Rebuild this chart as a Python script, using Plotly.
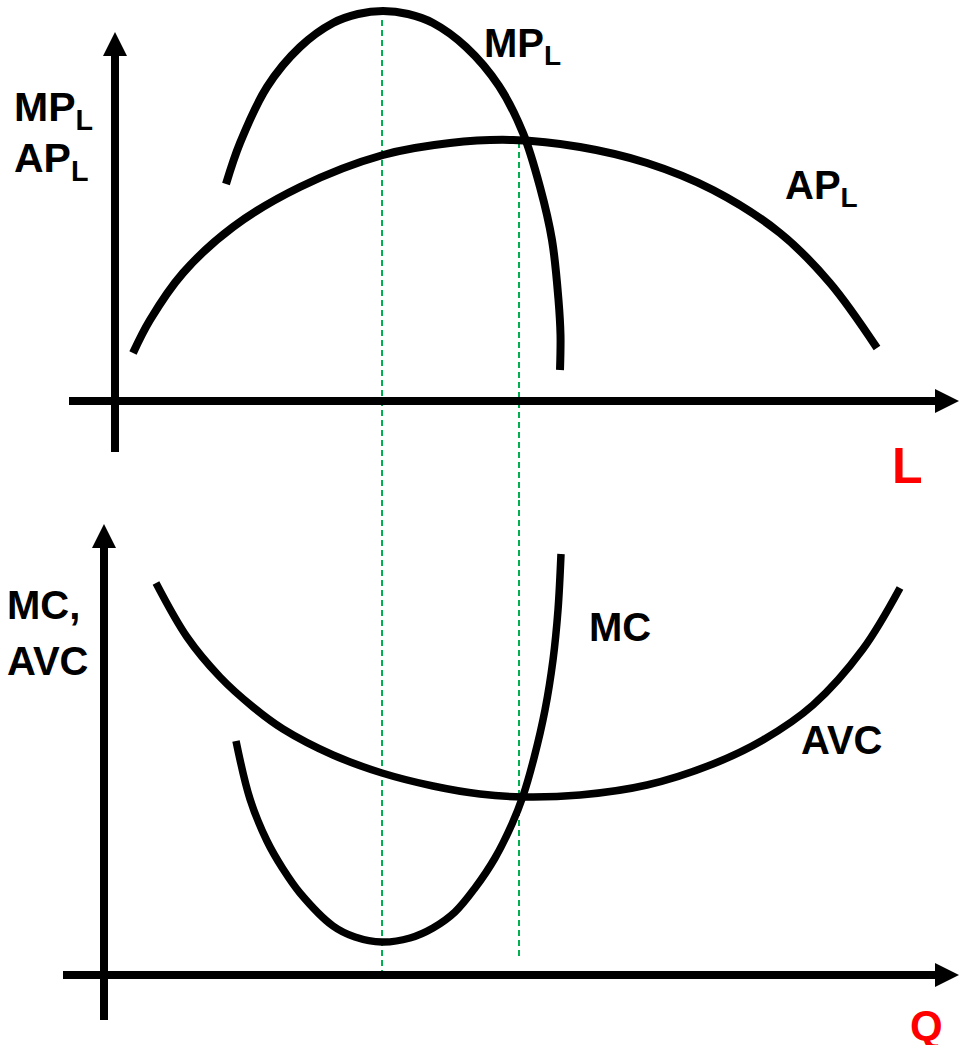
import plotly.graph_objects as go

# ---------------- data (chart units) ----------------
# Top panel: labour L vs product
mp_l_x = [2.18, 2.46, 3.00, 3.66, 4.32, 4.82, 5.32, 5.82, 6.32, 6.98, 7.64, 8.12, 8.46, 8.70, 8.83, 8.87, 8.86]
mp_l_y = [4.34, 5.16, 6.28, 7.08, 7.56, 7.74, 7.80, 7.74, 7.56, 7.08, 6.30, 5.36, 4.28, 3.22, 2.02, 1.32, 0.62]

ap_l_x = [0.32, 0.66, 1.32, 2.32, 3.66, 5.32, 6.66, 7.92, 9.26, 10.60, 11.92, 13.26, 14.26, 15.20]
ap_l_y = [0.96, 1.62, 2.56, 3.48, 4.28, 4.92, 5.16, 5.22, 5.08, 4.76, 4.22, 3.36, 2.36, 1.06]

# Bottom panel: output Q vs cost
avc_x = [1.04, 1.66, 2.32, 2.98, 3.58, 4.58, 5.56, 6.58, 7.52, 8.38, 9.52, 10.86, 12.18, 13.18, 14.18, 15.18, 15.92]
avc_y = [7.84, 6.76, 5.96, 5.36, 4.92, 4.40, 4.04, 3.78, 3.62, 3.56, 3.60, 3.80, 4.22, 4.70, 5.40, 6.52, 7.74]

mc_x = [2.64, 2.92, 3.26, 3.58, 3.92, 4.58, 5.02, 5.56, 6.12, 6.58, 7.02, 7.42, 7.82, 8.16, 8.38, 8.60, 8.82, 8.98, 9.08, 9.14]
mc_y = [4.68, 3.52, 2.68, 2.12, 1.64, 0.98, 0.76, 0.66, 0.74, 0.94, 1.26, 1.74, 2.34, 3.02, 3.58, 4.34, 5.30, 6.30, 7.30, 8.42]

# reference (dashed) lines: MP max / MC min, and MP=AP / MC=AVC
top_ref_x = [5.30, 8.04]
top_ref_ytop = [7.62, 5.18]
bot_ref_x = [5.56, 8.30]
bot_ref_ybottom = [0.0, 0.30]

# ---------------- figure ----------------
W, H = 959, 1045
split = 500 / H  # top panel occupies top 500 px

top_xr = [-2.34, 16.84]
top_yr = [-1.98, 8.02]
bot_xr = [-2.08, 17.10]
bot_yr = [-1.40, 9.50]

PX = 1 / 50.0           # one pixel in data units (both panels)
HEAD = 24 * PX          # arrow head length

GREEN = "#00B050"
FONT = "Liberation Sans, Arial, sans-serif"

fig = go.Figure()

def curve(x, y, xa, ya, w):
    fig.add_trace(go.Scatter(x=x, y=y, mode="lines", xaxis=xa, yaxis=ya,
                             line=dict(color="black", width=w, shape="spline", smoothing=1.0),
                             hoverinfo="skip", showlegend=False))

def dashed(x, y, xa, ya):
    fig.add_trace(go.Scatter(x=x, y=y, mode="lines", xaxis=xa, yaxis=ya,
                             line=dict(color=GREEN, width=2, dash="6px,4px"),
                             hoverinfo="skip", showlegend=False, cliponaxis=False))

def axis_line(xa, ya, x0, y0, x1, y1, symbol):
    # shaft stops under the head; head drawn as an arrow marker at the tip
    sx = x1 - HEAD * 0.8 if x1 != x0 else x1
    sy = y1 - HEAD * 0.8 if y1 != y0 else y1
    fig.add_trace(go.Scatter(x=[x0, sx], y=[y0, sy], mode="lines", xaxis=xa, yaxis=ya,
                             line=dict(color="black", width=8),
                             hoverinfo="skip", showlegend=False, cliponaxis=False))
    fig.add_trace(go.Scatter(x=[x1], y=[y1], mode="markers", xaxis=xa, yaxis=ya,
                             marker=dict(symbol=symbol, size=24, color="black",
                                         line=dict(width=0)),
                             hoverinfo="skip", showlegend=False, cliponaxis=False))

# dashed guides (drawn first, beneath curves)
for gx, gy in zip(top_ref_x, top_ref_ytop):
    dashed([gx, gx], [gy, top_yr[0]], "x", "y")
dashed([bot_ref_x[0]] * 2, [bot_yr[1], bot_ref_ybottom[0]], "x2", "y2")
dashed([bot_ref_x[1]] * 2, [bot_yr[1], bot_ref_ybottom[1]], "x2", "y2")

# axes
axis_line("x", "y", -0.04, -1.02, -0.04, 7.38, "arrow-up")
axis_line("x", "y", -0.96, 0.0, 16.84, 0.0, "arrow-right")
axis_line("x2", "y2", 0.0, -0.90, 0.0, 9.02, "arrow-up")
axis_line("x2", "y2", -0.82, 0.0, 17.10, 0.0, "arrow-right")

curve(mp_l_x, mp_l_y, "x", "y", 8)
curve(ap_l_x, ap_l_y, "x", "y", 8)
curve(avc_x, avc_y, "x2", "y2", 7.5)
curve(mc_x, mc_y, "x2", "y2", 7.5)

annotations = []

def label(text, xref, yref, x, y, size, color="black", xanchor="left"):
    annotations.append(dict(x=x, y=y, xref=xref, yref=yref, text=text, showarrow=False,
                            xanchor=xanchor, yanchor="middle",
                            font=dict(family=FONT, size=size, color=color)))

label("<b>MP<sub>L</sub></b>", "x", "y", -2.10, 5.82, 41)
label("<b>AP<sub>L</sub></b>", "x", "y", -2.10, 4.80, 41)
label("<b>MP<sub>L</sub></b>", "x", "y", 7.30, 7.11, 40)
label("<b>AP<sub>L</sub></b>", "x", "y", 13.32, 4.26, 40)
label("<b>L</b>", "x", "y", 15.80, -1.30, 50, "#FF0000", "center")

label("<b>MC,</b>", "x2", "y2", -1.99, 7.40, 40)
label("<b>AVC</b>", "x2", "y2", -1.99, 6.28, 40)
label("<b>MC</b>", "x2", "y2", 9.66, 6.96, 40)
label("<b>AVC</b>", "x2", "y2", 13.90, 4.70, 40)
label("<b>Q</b>", "x2", "y2", 16.44, -1.00, 42, "#FF0000", "center")

hidden = dict(visible=False, showgrid=False, zeroline=False, fixedrange=True)

fig.update_layout(
    width=W, height=H,
    margin=dict(l=0, r=0, t=0, b=0, pad=0),
    paper_bgcolor="white", plot_bgcolor="white",
    showlegend=False,
    xaxis=dict(hidden, domain=[0, 1], range=top_xr, anchor="y"),
    yaxis=dict(hidden, domain=[1 - split, 1], range=top_yr, anchor="x"),
    xaxis2=dict(hidden, domain=[0, 1], range=bot_xr, anchor="y2"),
    yaxis2=dict(hidden, domain=[0, 1 - split], range=bot_yr, anchor="x2"),
    annotations=annotations,
)

fig.write_html("out.html", config={"displayModeBar": False},
               post_script="document.body.style.margin='0';document.body.style.overflow='hidden';")
